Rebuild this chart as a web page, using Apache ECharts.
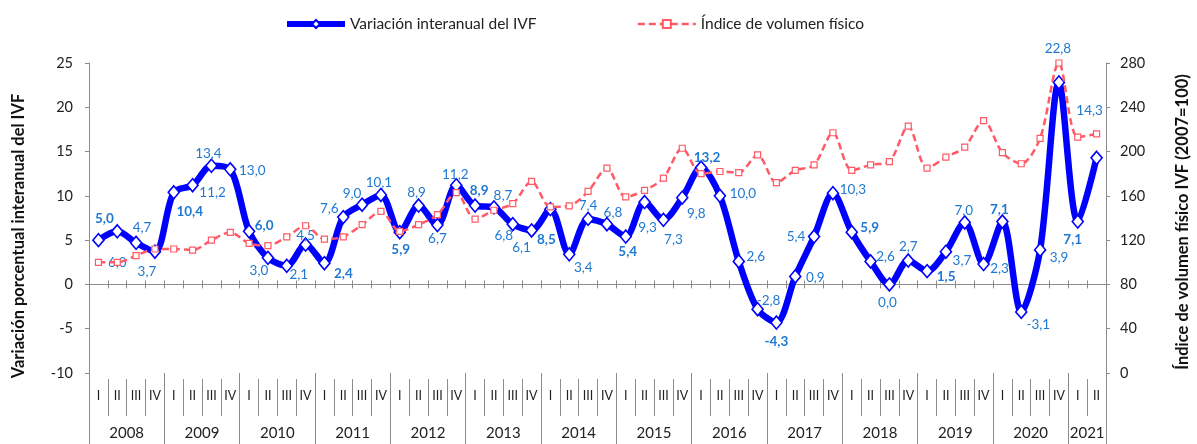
<!DOCTYPE html>
<html>
<head>
<meta charset="utf-8">
<script src="https://cdn.jsdelivr.net/npm/echarts@6/dist/echarts.min.js"></script>
<style>
  html, body { margin: 0; padding: 0; background: #fff; }
  #chart { width: 1197px; height: 444px; }
</style>
</head>
<body>
<div id="chart"></div>
<script>
// trimestres 2008-I ... 2021-II
const years = ['2008', '2009', '2010', '2011', '2012', '2013', '2014',
               '2015', '2016', '2017', '2018', '2019', '2020', '2021'];
const quartersPerYear = [4, 4, 4, 4, 4, 4, 4, 4, 4, 4, 4, 4, 4, 2];
const quarterNames = ['I', 'II', 'III', 'IV'];

// Variación interanual del IVF (%)
const variacion = [
  5.0, 6.0, 4.7, 3.7,
  10.4, 11.2, 13.4, 13.0,
  6.0, 3.0, 2.1, 4.5,
  2.4, 7.6, 9.0, 10.1,
  5.9, 8.9, 6.7, 11.2,
  8.9, 8.7, 6.8, 6.1,
  8.5, 3.4, 7.4, 6.8,
  5.4, 9.3, 7.3, 9.8,
  13.2, 10.0, 2.6, -2.8,
  -4.3, 0.9, 5.4, 10.3,
  5.9, 2.6, 0.0, 2.7,
  1.5, 3.7, 7.0, 2.3,
  7.1, -3.1, 3.9, 22.8,
  7.1, 14.3
];

// Índice de volumen físico (2007=100)
const indice = [
  100, 100, 106, 112,
  112, 111, 120, 127,
  117, 115, 123, 133,
  121, 123, 134, 146,
  128, 134, 143, 163,
  139, 147, 153, 173,
  150, 151, 164, 185,
  159, 165, 176, 203,
  180, 182, 181, 197,
  172, 183, 188, 217,
  183, 188, 191, 223,
  185, 195, 204, 228,
  199, 189, 212, 280,
  213, 216
];

// label placement around each point (px), only layout
const labelOffsets = [
  [6, -22], [0, 31], [6, -15], [-8, 20],
  [16, 19], [20, 7], [-3, -12], [22, 1],
  [15, -6], [-9, 13], [12, 9], [0, -9],
  [19, 10], [-14, -8], [-10, -11], [-2, -12],
  [1, 17], [-2, -13], [0, 14], [-1, -11],
  [4, -15], [9, -12], [-9, 11], [-10, 17],
  [-4, 30], [14, 13], [0, -13], [6, -12],
  [2, 15], [3, 26], [10, 20], [14, 16],
  [6, -10], [23, -2], [17, -5], [11, -9],
  [0, 19], [20, 1], [-18, 0], [20, -4],
  [18, -5], [15, -5], [-2, 18], [0, -14],
  [19, 5], [16, 9], [-1, -12], [16, 5],
  [-3, -12], [17, 13], [19, 8], [-1, -34],
  [-5, 18], [-7, -47]
];

const categories = [];
const quarterLabels = [];
const yearTicks = [0];
const yearCenters = [];
let pos = 0;
years.forEach((y, i) => {
  const n = quartersPerYear[i];
  for (let q = 0; q < n; q++) {
    categories.push(y + '-' + quarterNames[q]);
    quarterLabels.push(quarterNames[q]);
  }
  yearCenters.push(pos + n / 2);
  pos += n;
  yearTicks.push(pos);
});
const nQ = categories.length;
const quarterTicks = [];
for (let i = 0; i <= nQ; i++) quarterTicks.push(i);
const quarterCenters = quarterTicks.slice(0, nQ).map(v => v + 0.5);

const FONT = 'Lato, "Noto Sans", sans-serif';
const GRAY = '#8c8c8c';
const BLUE = '#0000ff';
const RED = '#ff5a66';
const LABEL_BLUE = '#1f78d1';

const fmt = v => v.toFixed(1).replace('.', ',');

const chart = echarts.init(document.getElementById('chart'));

const option = {
  animation: false,
  textStyle: { fontFamily: FONT },
  legend: {
    left: 279,
    top: 11,
    itemWidth: 58,
    itemHeight: 10,
    itemGap: 100,
    textStyle: { fontSize: 15.5, color: '#222', fontFamily: FONT },
    data: [
      { name: 'Variación interanual del IVF', lineStyle: { width: 6 } },
      { name: 'Índice de volumen físico', lineStyle: { width: 2.5 } }
    ]
  },
  grid: {
    left: 89, right: 91, top: 63, bottom: 71,
    containLabel: false,
    outerBoundsMode: 'none'
  },
  xAxis: [
    {
      // línea del cero con marcas
      type: 'category',
      data: categories,
      position: 'bottom',
      axisLine: { show: true, onZero: true, onZeroAxisIndex: 0, lineStyle: { color: GRAY, width: 1 } },
      axisTick: { show: true, interval: 0, length: 4, lineStyle: { color: GRAY } },
      axisLabel: { show: false },
      splitLine: { show: false }
    },
    {
      type: 'category',
      data: categories,
      position: 'bottom',
      axisLine: { show: false, onZero: true, onZeroAxisIndex: 0 },
      axisTick: { show: true, inside: true, interval: 0, length: 4, lineStyle: { color: GRAY } },
      axisLabel: { show: false },
      splitLine: { show: false }
    },
    {
      // trimestres
      type: 'value',
      min: 0, max: nQ,
      position: 'bottom',
      offset: 6,
      axisLine: { show: false, onZero: false },
      axisTick: { show: true, length: 37, customValues: quarterTicks, lineStyle: { color: GRAY } },
      axisLabel: {
        customValues: quarterCenters,
        margin: 10,
        fontSize: 12.5,
        color: '#222',
        formatter: v => quarterLabels[Math.floor(v)]
      },
      splitLine: { show: false }
    },
    {
      // años
      type: 'value',
      min: 0, max: nQ,
      position: 'bottom',
      offset: 0,
      axisLine: { show: false, onZero: false },
      axisTick: { show: true, length: 71, customValues: yearTicks, lineStyle: { color: GRAY } },
      axisLabel: {
        customValues: yearCenters,
        margin: 53,
        fontSize: 15,
        color: '#222',
        formatter: v => years[yearCenters.indexOf(v)]
      },
      splitLine: { show: false }
    }
  ],
  yAxis: [
    {
      type: 'value',
      min: -10, max: 25, interval: 5,
      position: 'left',
      name: 'Variación porcentual interanual del IVF',
      nameLocation: 'middle',
      nameRotate: 90,
      nameGap: 62,
      nameTextStyle: { fontSize: 16.5, fontWeight: 'bold', color: '#111', padding: [0, 0, 0, -36] },
      axisLine: { show: true, onZero: false, lineStyle: { color: GRAY } },
      axisTick: { show: true, length: 4, lineStyle: { color: GRAY } },
      axisLabel: { fontSize: 14.5, color: '#222', margin: 16 },
      splitLine: { show: false }
    },
    {
      type: 'value',
      min: 0, max: 280, interval: 40,
      position: 'right',
      name: 'Índice de volumen físico IVF (2007=100)',
      nameLocation: 'middle',
      nameRotate: 90,
      nameGap: 68,
      nameTextStyle: { fontSize: 16.5, fontWeight: 'bold', color: '#111', padding: [0, 0, 0, -8] },
      axisLine: { show: true, onZero: false, lineStyle: { color: GRAY } },
      axisTick: { show: true, length: 4, lineStyle: { color: GRAY } },
      axisLabel: { fontSize: 14.5, color: '#222', margin: 14 },
      splitLine: { show: false }
    }
  ],
  series: [
    {
      name: 'Variación interanual del IVF',
      type: 'line',
      xAxisIndex: 0,
      yAxisIndex: 0,
      smooth: 0.3,
      z: 3,
      showAllSymbol: true,
      symbol: 'diamond',
      symbolSize: [11, 13],
      lineStyle: { color: BLUE, width: 6.5 },
      itemStyle: { color: '#fff', borderColor: BLUE, borderWidth: 1.6 },
      label: {
        show: true,
        position: 'inside',
        fontSize: 13.5,
        color: LABEL_BLUE,
        formatter: p => fmt(p.value)
      },
      emphasis: { disabled: true },
      data: variacion.map((v, i) => ({
        value: v,
        label: { offset: labelOffsets[i], fontWeight: i % 4 === 0 ? 'bold' : 'normal' }
      }))
    },
    {
      name: 'Índice de volumen físico',
      type: 'line',
      xAxisIndex: 0,
      yAxisIndex: 1,
      smooth: 0.3,
      z: 4,
      showAllSymbol: true,
      symbol: 'rect',
      symbolSize: 6,
      lineStyle: { color: RED, width: 2.5, type: [7, 4] },
      itemStyle: { color: '#fff', borderColor: RED, borderWidth: 1.2 },
      emphasis: { disabled: true },
      data: indice
    }
  ]
};

chart.setOption(option);
</script>
</body>
</html>
